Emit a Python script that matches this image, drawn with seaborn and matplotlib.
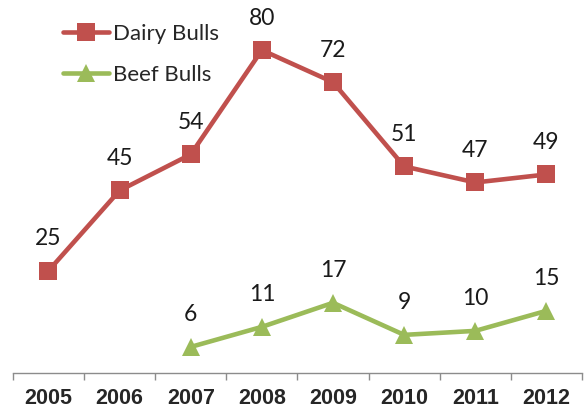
import numpy as np
import pandas as pd
import matplotlib
matplotlib.use("Agg")
import matplotlib.pyplot as plt
import seaborn as sns

years = [2005, 2006, 2007, 2008, 2009, 2010, 2011, 2012]
dairy_bulls = [25, 45, 54, 80, 72, 51, 47, 49]
beef_bulls = [np.nan, np.nan, 6, 11, 17, 9, 10, 15]

df = pd.DataFrame({
    "Year": years * 2,
    "Count": dairy_bulls + beef_bulls,
    "Series": ["Dairy Bulls"] * len(years) + ["Beef Bulls"] * len(years),
})

sns.set_theme(style="white")
plt.rcParams["font.family"] = ["Lato", "DejaVu Sans"]

colors = {"Dairy Bulls": "#C0504D", "Beef Bulls": "#9BBB59"}
markers = {"Dairy Bulls": "s", "Beef Bulls": "^"}

fig = plt.figure(figsize=(5.87, 4.11), dpi=100)
ax = fig.add_axes([0.022, 0.0925, 0.9695, 0.888])

sns.lineplot(data=df.dropna(), x="Year", y="Count", hue="Series", style="Series",
             palette=colors, markers=markers, dashes=False, linewidth=3.3,
             markersize=13, markeredgewidth=0, ax=ax)

# value labels above each point
for name, vals in [("Dairy Bulls", dairy_bulls), ("Beef Bulls", beef_bulls)]:
    for x, v in zip(years, vals):
        if np.isnan(v):
            continue
        ax.annotate(f"{v:g}", (x, v), xytext=(0, 23), textcoords="offset points",
                    ha="center", va="center", fontsize=16.5, color="#1a1a1a")

ax.set_xlim(2004.5, 2012.5)
ax.set_ylim(-0.5, 90.5)
ax.set_xlabel("")
ax.set_ylabel("")
ax.set_yticks([])
ax.set_xticks(years)
ax.set_xticklabels([str(y) for y in years], fontweight="bold", fontsize=15.5,
                   family=["Liberation Sans", "DejaVu Sans"])
ax.set_xticks(np.arange(2004.5, 2013, 1), minor=True)
ax.tick_params(axis="x", which="major", length=0, pad=11)
ax.tick_params(axis="x", which="minor", length=5, width=1, color="#8c8c8c", bottom=True)

for side in ["top", "right", "left"]:
    ax.spines[side].set_visible(False)
ax.spines["bottom"].set_color("#8c8c8c")
ax.spines["bottom"].set_linewidth(1)

leg = ax.legend(loc="upper left", bbox_to_anchor=(0.052, 1.012), frameon=False,
                fontsize=16, handlelength=2.1, handletextpad=0.15, labelspacing=0.95)

fig.savefig("out.png", dpi=100)
